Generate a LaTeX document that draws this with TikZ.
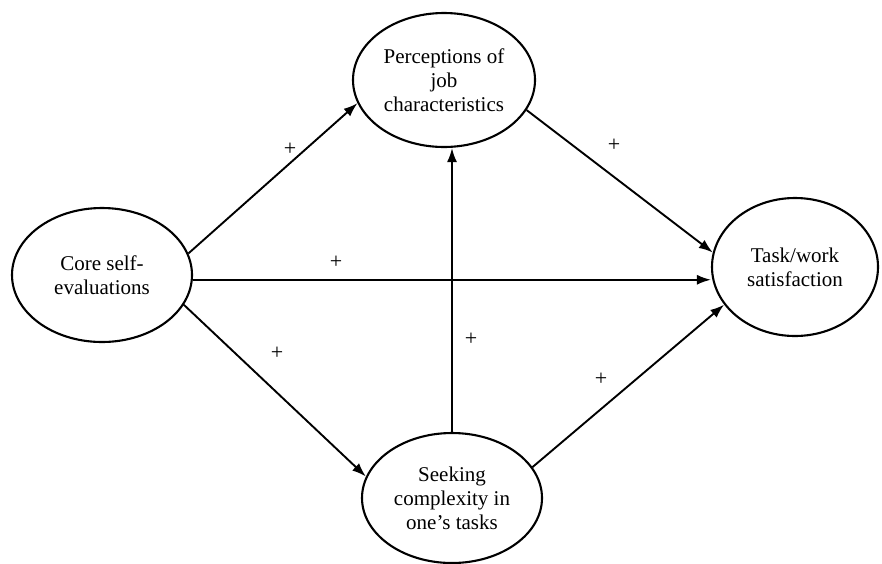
\documentclass[tikz,border=0pt]{standalone}
\usepackage{fontspec}
\setmainfont{Liberation Serif}
\usetikzlibrary{arrows.meta,shapes.geometric}

\tikzset{
  factor/.style={draw, ellipse, line width=2.1pt, inner sep=0pt, align=center,
    font=\fontsize{21}{24}\selectfont},
  link/.style={line width=1.9pt, -{Latex[length=14pt,width=10pt]}},
  sign/.style={font=\fontsize{22}{22}\selectfont, inner sep=0pt}
}

\begin{document}
\begin{tikzpicture}[x=1pt, y=-1pt]

      \useasboundingbox (0,0) rectangle (882,563);

      \node[factor, minimum width=180pt, minimum height=134pt] (core) at (102,275) {Core self-\\evaluations};
      \node[factor, minimum width=182pt, minimum height=134pt] (perc) at (444,80) {Perceptions of\\job\\characteristics};
      \node[factor, minimum width=166pt, minimum height=138pt] (task) at (795,267) {Task/work\\satisfaction};
      \node[factor, minimum width=180pt, minimum height=130pt] (seek) at (452,498) {Seeking\\complexity in\\one's tasks};

      \draw[link] (core.14) -- (perc.195);
      \draw[link] (core.-3) -- (core.-3 -| task.west);
      \draw[link] (core.-20) -- (seek.166);
      \draw[link] (perc.-20) -- (task.170);
      \draw[link] (seek.north) -- (seek.north |- perc.south);
      \draw[link] (seek.21) -- (task.208);

      \node[sign] (s1) at (290,149) {+};
      \node[sign] (s2) at (614,145) {+};
      \node[sign] (s3) at (336,262) {+};
      \node[sign] (s4) at (277,353) {+};
      \node[sign] (s5) at (471,339) {+};
      \node[sign] (s6) at (601,379) {+};

    \end{tikzpicture}
\end{document}
